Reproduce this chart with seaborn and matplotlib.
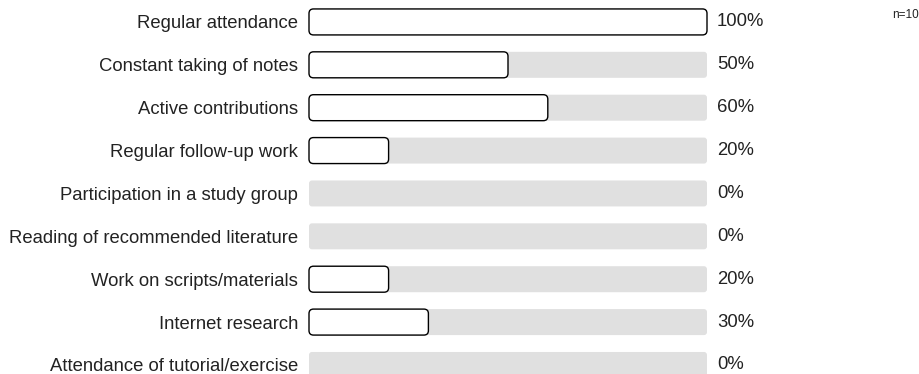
import matplotlib
matplotlib.use("Agg")
import matplotlib.pyplot as plt
from matplotlib.patches import FancyBboxPatch
import pandas as pd
import seaborn as sb

items = ["Regular attendance", "Constant taking of notes", "Active contributions",
         "Regular follow-up work", "Participation in a study group",
         "Reading of recommended literature", "Work on scripts/materials",
         "Internet research", "Attendance of tutorial/exercise"]
shares = [100, 50, 60, 20, 0, 0, 20, 30, 0]
full = [100] * len(items)
n_label = "n=10"

df = pd.DataFrame({"item": items, "share": shares, "full": full})

sb.set_theme(style="white")
plt.rcParams["font.family"] = ["Liberation Sans", "DejaVu Sans"]

fig = plt.figure(figsize=(9.2, 3.74), dpi=100)
ax = fig.add_axes([309 / 920, (374 - 386.4) / 374, 398 / 920, 385.9 / 374])

bw = 0.606
sb.barplot(data=df, y="item", x="full", orient="h", color="#e0e0e0", width=bw, ax=ax)
sb.barplot(data=df, y="item", x="share", orient="h", color="white", width=bw, ax=ax)

ax.set_xlim(0, 100)
ax.set_ylim(len(items) - 0.5, -0.5)

# swap plain rectangles for rounded ones (same geometry from seaborn)
px_x = 398 / 100.0
px_y = 385.9 / len(items)
aspect = px_x / px_y
bars = list(ax.patches)
n = len(items)
for i, p in enumerate(bars):
    x0, y0 = p.get_x(), p.get_y()
    w, h = p.get_width(), p.get_height()
    p.remove()
    if w <= 0:
        continue
    back = i < n
    r = 3.0 if back else 4.5
    box = FancyBboxPatch((x0, y0), w, h,
                         boxstyle="round,pad=0,rounding_size=%f" % (r / px_x),
                         mutation_aspect=aspect,
                         facecolor="#e0e0e0" if back else "white",
                         edgecolor="none" if back else "black",
                         linewidth=1.0, zorder=2 if back else 3,
                         clip_on=False)
    ax.add_patch(box)

fs = 13.3
for i, v in enumerate(shares):
    ax.text(102.5, i, "%d%%" % v, va="center", ha="left", fontsize=fs, color="#222222")

ax.set_yticks(range(n))
ax.set_yticklabels(items, fontsize=fs, color="#222222")
ax.tick_params(axis="y", length=0, pad=8)
ax.set_xticks([])
ax.set_xlabel("")
ax.set_ylabel("")
sb.despine(ax=ax, left=True, bottom=True)

fig.text(892 / 920, 1 - 15 / 374, n_label, fontsize=8.5, va="center", ha="left", color="#222222")

fig.savefig("out.png", dpi=100)
